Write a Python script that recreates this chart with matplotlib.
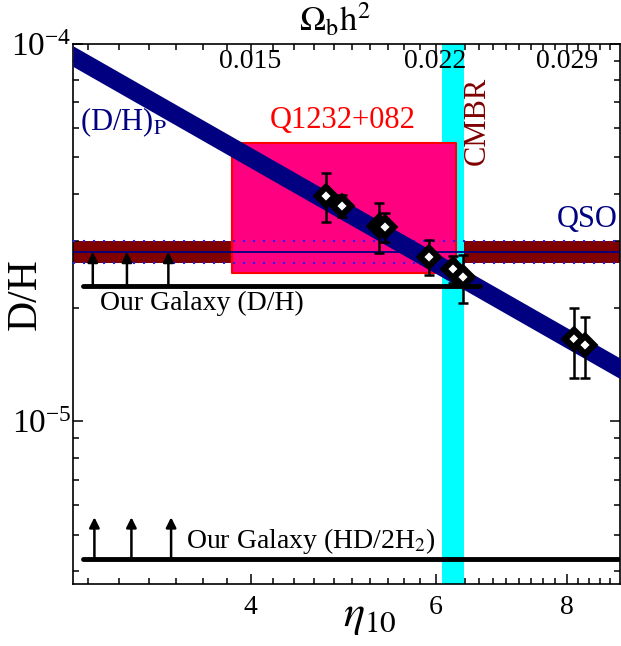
import numpy as np
import matplotlib
matplotlib.use('Agg')
import matplotlib.pyplot as plt
from matplotlib.ticker import NullFormatter, FixedLocator
from matplotlib.transforms import blended_transform_factory

plt.rcParams['font.family'] = ['Liberation Serif', 'DejaVu Serif']
plt.rcParams['mathtext.fontset'] = 'stix'

# deuterium measurements (eta_10, D/H and error bar ends, in units of 1e-5)
eta_pts = [4.72, 4.89, 5.30, 5.37, 5.92, 6.23, 6.37, 8.12, 8.32]
dh_pts = [3.95, 3.72, 3.29, 3.27, 2.72, 2.53, 2.41, 1.65, 1.59]
dh_hi = [4.55, 3.98, 3.79, 3.56, 3.02, 2.74, 2.76, 2.00, 1.89]
dh_lo = [3.37, 3.47, 2.79, 2.99, 2.44, 2.32, 2.06, 1.30, 1.30]

# primordial prediction band (end points), half width as a factor
eta_band = [2.71, 8.99]
dh_band = [9.28e-5, 1.38e-5]
band_fac = 1.065

# QSO weighted mean band
qso_mid, qso_lo, qso_hi = 2.81e-5, 2.62e-5, 3.00e-5

# Q1232+082 box
q_eta = [3.84, 6.28]
q_dh = [2.47e-5, 5.46e-5]

# CMBR range
cmb_eta = [6.08, 6.39]

# galaxy lower limits
gal_dh = 2.28e-5
gal_eta = [2.77, 6.61]
gal_arrow_eta = [2.83, 3.05, 3.34]
gal_arrow_top = 2.81e-5
hd_dh = 4.31e-6
hd_eta = [2.77, 9.5]
hd_arrow_eta = [2.84, 3.08, 3.36]
hd_arrow_top = 5.56e-6

# axis ticks
x_ticks = [4, 6, 8]
x_ticklabels = ['4', '6', '8']
top_ticklabels = ['0.015', '0.022', '0.029']

fig = plt.figure(figsize=(6.21, 6.46), dpi=100)
ax = fig.add_axes([0.1176, 0.096, 0.8808, 0.836])
ax.set_xscale('log')
ax.set_yscale('log')
ax.set_xlim(2.71, 8.99)
ax.set_ylim(3.70e-6, 1e-4)

# QSO band
ax.axhspan(qso_lo, qso_hi, color='#800000', zorder=1, lw=0)
# CMBR
ax.axvspan(cmb_eta[0], cmb_eta[1], color='#00ffff', zorder=2, lw=0)
# Q1232+082 box
ax.fill_between(q_eta, q_dh[0], q_dh[1], facecolor='#ff0080',
                edgecolor='#ff0000', lw=1.5, zorder=3)
# QSO lines
ax.axhline(qso_mid, color='#000080', lw=1.3, zorder=4)
for v in (qso_lo, qso_hi):
    ax.axhline(v, color='#2020ff', lw=1.5, dashes=(1, 3.8), zorder=4)

# primordial band
eb = np.array(eta_band)
db = np.array(dh_band)
ax.fill_between(eb, db / band_fac, db * band_fac, color='#000080', lw=0, zorder=5)

# our galaxy limits
ax.plot(gal_eta, [gal_dh, gal_dh], color='k', lw=3.5, solid_capstyle='round', zorder=6)
ax.plot(hd_eta, [hd_dh, hd_dh], color='k', lw=3.5, solid_capstyle='round', zorder=6)
for e in gal_arrow_eta:
    ax.annotate('', xy=(e, gal_arrow_top), xytext=(e, gal_dh),
                arrowprops=dict(arrowstyle='-|>', color='k', lw=1.8,
                                mutation_scale=15, shrinkA=0, shrinkB=0), zorder=6)
for e in hd_arrow_eta:
    ax.annotate('', xy=(e, hd_arrow_top), xytext=(e, hd_dh),
                arrowprops=dict(arrowstyle='-|>', color='k', lw=1.8,
                                mutation_scale=15, shrinkA=0, shrinkB=0), zorder=6)

# data points
y = np.array(dh_pts) * 1e-5
yerr = [y - np.array(dh_lo) * 1e-5, np.array(dh_hi) * 1e-5 - y]
ax.errorbar(eta_pts, y, yerr=yerr, fmt='none', ecolor='k', elinewidth=1.8,
            capsize=3.5, capthick=1.8, zorder=7)
ax.plot(eta_pts, y, 'D', ms=9, mfc='white', mec='black', mew=4.5, ls='none', zorder=8)

# labels in the plot
ax.text(2.749, 5.91e-5, r'(D/H)$_{\rm P}$', color='#000080', fontsize=22)
ax.text(4.17, 5.99e-5, 'Q1232+082', color='#ff0000', fontsize=22)
ax.text(6.58, 6.25e-5, 'CMBR', color='#800000', fontsize=22, rotation=90,
        ha='center', va='center')
ax.text(8.94, 3.27e-5, 'QSO', color='#000080', fontsize=22, ha='right')
ax.text(2.872, 1.97e-5, 'Our Galaxy (D/H)', fontsize=20)
ax.text(3.468, 4.60e-6, r'Our Galaxy (HD/2H$_2$)', fontsize=20)

# ticks
ax.xaxis.set_major_locator(FixedLocator(x_ticks))
ax.set_xticklabels(x_ticklabels)
ax.xaxis.set_minor_locator(FixedLocator(np.arange(2.8, 9.0, 0.2)))
ax.xaxis.set_minor_formatter(NullFormatter())
ax.tick_params(which='both', direction='in', top=True, right=True, width=1.1)
ax.tick_params(which='major', length=7)
ax.tick_params(which='minor', length=4)
ax.tick_params(axis='x', labelsize=20, pad=8)
ax.tick_params(axis='y', labelsize=24, pad=1)
for s in ax.spines.values():
    s.set_linewidth(1.2)

trans = blended_transform_factory(ax.transData, ax.transAxes)
for e, lab in zip(x_ticks, top_ticklabels):
    ax.text(e, 0.99, lab, transform=trans, ha='center', va='top', fontsize=20)

ax.text(0.479, 1.008, r'$\Omega_{\rm b}{\rm h}^2$', transform=ax.transAxes,
        ha='center', va='bottom', fontsize=25)
ax.set_xlabel(r'$\eta_{10}$', fontsize=32)
ax.xaxis.set_label_coords(0.543, -0.025)
ax.set_ylabel('D/H', fontsize=30)
ax.yaxis.set_label_coords(-0.051, 0.537)

fig.savefig('out.png', dpi=100)
